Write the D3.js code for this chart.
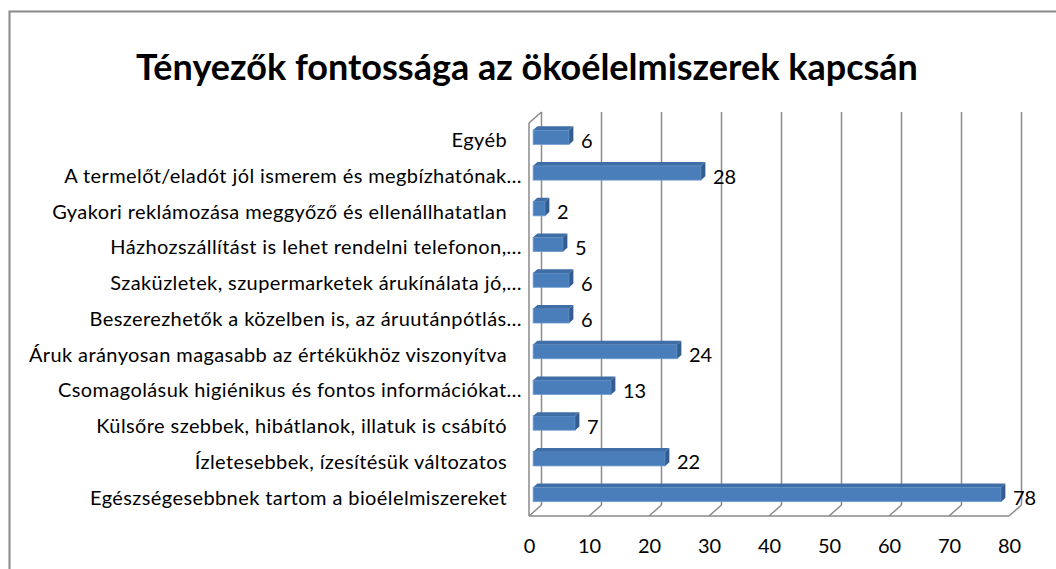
<!DOCTYPE html>
<html>
<head>
<meta charset="utf-8">
<script src="https://cdn.jsdelivr.net/npm/d3@7"></script>
<style>
  body { margin: 0; background: #fff; }
  svg { display: block; font-family: Lato, "Open Sans", sans-serif; }
  .cat-label text, .x-axis text { fill: #000; }
  .grid line { stroke: #8a8a8a; stroke-width: 1.5; }
</style>
</head>
<body>
<svg id="chart"></svg>
<script>
var categories = [
  "Egyéb",
  "A termelőt/eladót jól ismerem és megbízhatónak…",
  "Gyakori reklámozása meggyőző és ellenállhatatlan",
  "Házhozszállítást is lehet rendelni telefonon,…",
  "Szaküzletek, szupermarketek árukínálata jó,…",
  "Beszerezhetők a közelben is, az áruutánpótlás…",
  "Áruk arányosan magasabb az értékükhöz viszonyítva",
  "Csomagolásuk higiénikus és fontos információkat…",
  "Külsőre szebbek, hibátlanok, illatuk is csábító",
  "Ízletesebbek, ízesítésük változatos",
  "Egészségesebbnek tartom a bioélelmiszereket"
]
var values = [6, 28, 2, 5, 6, 6, 24, 13, 7, 22, 78]
var xTicks = [0, 10, 20, 30, 40, 50, 60, 70, 80]
var title = "Tényezők fontossága az ökoélelmiszerek kapcsán"

var width = 1056
var height = 569

// depth of the 3d box (front plane -> back wall)
var dx = 12.5
var dy = -11
// where the bars sit inside the depth
var f1 = 0.33
var f2 = 0.67

var svg = d3.select("#chart")
  .attr("width", width)
  .attr("height", height)

// outer chart frame (runs off the picture at right and bottom)
svg.append("rect")
  .attr("x", 9.5)
  .attr("y", 11.5)
  .attr("width", 1100)
  .attr("height", 600)
  .attr("fill", "none")
  .attr("stroke", "#888")
  .attr("stroke-width", 2)

svg.append("text")
  .attr("x", 527)
  .attr("y", 80)
  .attr("text-anchor", "middle")
  .attr("font-size", 36)
  .attr("font-weight", "bold")
  .text(title)

var x = d3.scaleLinear()
  .domain([0, 80])
  .range([529, 1009])

var y = d3.scaleBand()
  .domain(categories)
  .range([123, 516])

var barH = y.step() * 0.4

var y0 = 123
var y1 = 516

// back wall gridlines
var grid = svg.append("g").attr("class", "grid")

grid.selectAll(".vline")
  .data(xTicks)
  .enter().append("line")
  .attr("x1", function(d) { return x(d) + dx })
  .attr("x2", function(d) { return x(d) + dx })
  .attr("y1", y0 + dy)
  .attr("y2", y1 + dy)

// floor lines
grid.selectAll(".fline")
  .data(xTicks)
  .enter().append("line")
  .attr("x1", function(d) { return x(d) })
  .attr("x2", function(d) { return x(d) + dx })
  .attr("y1", y1)
  .attr("y2", y1 + dy)

grid.append("line")
  .attr("x1", x(0))
  .attr("x2", x(80))
  .attr("y1", y1)
  .attr("y2", y1)

// left side wall
grid.append("line")
  .attr("x1", x(0))
  .attr("x2", x(0))
  .attr("y1", y0)
  .attr("y2", y1)

grid.append("line")
  .attr("x1", x(0))
  .attr("x2", x(0) + dx)
  .attr("y1", y0)
  .attr("y2", y0 + dy)

// bars
var bar = svg.selectAll(".bar")
  .data(values)
  .enter().append("g")
  .attr("class", "bar")

function yTop(i) { return y(categories[i]) + y.bandwidth() / 2 - barH / 2 }

bar.append("rect")
  .attr("x", x(0) + f1 * dx)
  .attr("y", function(d, i) { return yTop(i) + f1 * dy })
  .attr("width", function(d) { return x(d) - x(0) })
  .attr("height", barH)
  .attr("fill", "#4a7ebb")
  .attr("stroke", "#6f9bd0")
  .attr("stroke-width", 0.8)

bar.append("polygon")
  .attr("points", function(d, i) {
    var t = yTop(i)
    return [
      [x(0) + f1 * dx, t + f1 * dy],
      [x(d) + f1 * dx, t + f1 * dy],
      [x(d) + f2 * dx, t + f2 * dy],
      [x(0) + f2 * dx, t + f2 * dy]
    ].join(" ")
  })
  .attr("fill", "#3f6da6")

bar.append("polygon")
  .attr("points", function(d, i) {
    var t = yTop(i)
    var b = t + barH
    return [
      [x(d) + f1 * dx, t + f1 * dy],
      [x(d) + f2 * dx, t + f2 * dy],
      [x(d) + f2 * dx, b + f2 * dy],
      [x(d) + f1 * dx, b + f1 * dy]
    ].join(" ")
  })
  .attr("fill", "#345d8f")

// value labels
svg.selectAll(".val")
  .data(values)
  .enter().append("text")
  .attr("class", "val")
  .attr("x", function(d) { return x(d) + 16 })
  .attr("y", function(d, i) { return y(categories[i]) + y.bandwidth() / 2 })
  .attr("dy", "0.35em")
  .attr("font-size", 20)
  .text(function(d) { return d })

// category labels
var yAxis = svg.append("g")
  .attr("class", "cat-label")
  .attr("transform", "translate(522,0)")
  .call(d3.axisLeft(y).tickSize(0).tickPadding(0))

yAxis.select(".domain").remove()
yAxis.selectAll("text")
  .attr("font-size", 20)
  .attr("font-family", "Lato")
  .attr("letter-spacing", 0.4)
  .attr("x", function(d) { return d.slice(-1) === "…" ? 0 : -15 })

// x axis labels
var xAxis = svg.append("g")
  .attr("class", "x-axis")
  .attr("transform", "translate(0," + y1 + ")")
  .call(d3.axisBottom(x).tickValues(xTicks).tickSize(0).tickPadding(23))

xAxis.select(".domain").remove()
xAxis.selectAll("text")
  .attr("font-size", 20)
  .attr("font-family", "Lato")
</script>
</body>
</html>
